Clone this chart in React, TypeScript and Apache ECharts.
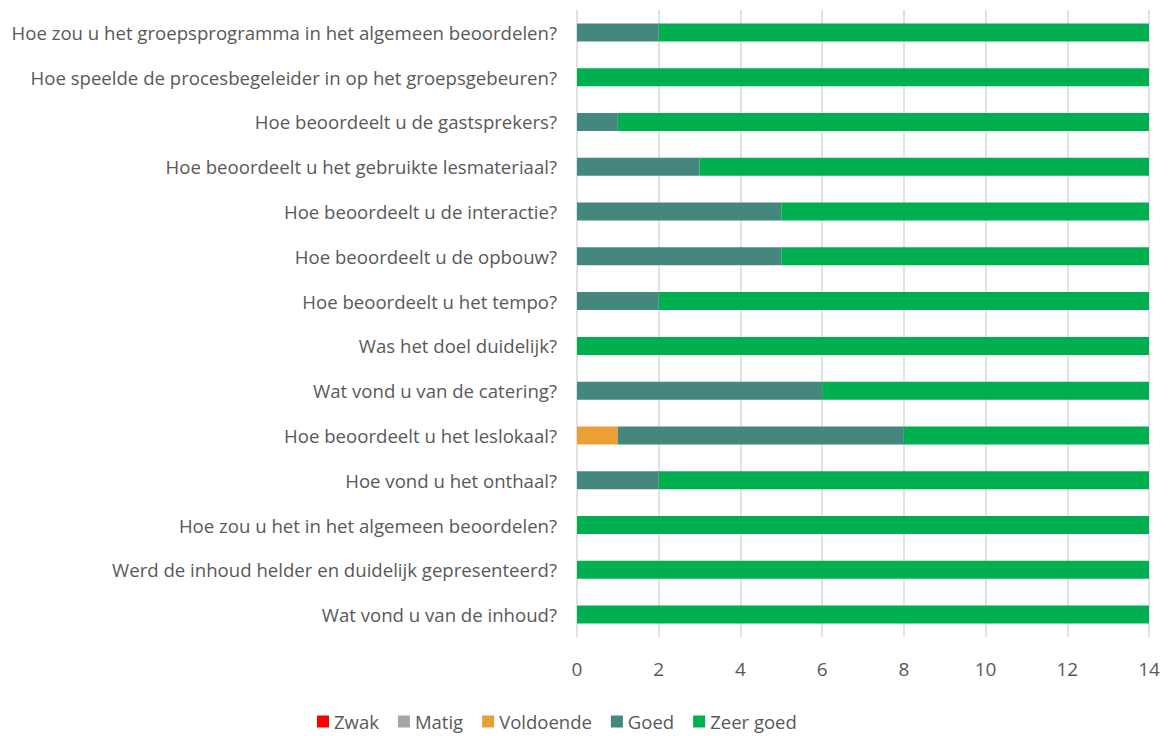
import React, { useEffect, useRef } from "react";
import * as echarts from "echarts";

const categories = [
  "Hoe zou u het groepsprogramma in het algemeen beoordelen?",
  "Hoe speelde de procesbegeleider in op het groepsgebeuren?",
  "Hoe beoordeelt u de gastsprekers?",
  "Hoe beoordeelt u het gebruikte lesmateriaal?",
  "Hoe beoordeelt u de interactie?",
  "Hoe beoordeelt u de opbouw?",
  "Hoe beoordeelt u het tempo?",
  "Was het doel duidelijk?",
  "Wat vond u van de catering?",
  "Hoe beoordeelt u het leslokaal?",
  "Hoe vond u het onthaal?",
  "Hoe zou u het in het algemeen beoordelen?",
  "Werd de inhoud helder en duidelijk gepresenteerd?",
  "Wat vond u van de inhoud?",
];

const zwak = [0, 0, 0, 0, 0, 0, 0, 0, 0, 0, 0, 0, 0, 0];
const matig = [0, 0, 0, 0, 0, 0, 0, 0, 0, 0, 0, 0, 0, 0];
const voldoende = [0, 0, 0, 0, 0, 0, 0, 0, 0, 1, 0, 0, 0, 0];
const goed = [2, 0, 1, 3, 5, 5, 2, 0, 6, 7, 2, 0, 0, 0];
const zeerGoed = [12, 14, 13, 11, 9, 9, 12, 14, 8, 6, 12, 14, 14, 14];

const seriesNames = ["Zwak", "Matig", "Voldoende", "Goed", "Zeer goed"];
const seriesData = [zwak, matig, voldoende, goed, zeerGoed];
const seriesColors = ["#ff0000", "#a5a5a5", "#eba035", "#43877e", "#00b050"];

export default function App() {
  const ref = useRef<HTMLDivElement>(null);
  useEffect(() => {
    if (!ref.current) return;
    const chart = echarts.init(ref.current, null, { renderer: "svg" });
    const font = "'Open Sans', 'Noto Sans', sans-serif";
    chart.setOption({
      animation: false,
      textStyle: { fontFamily: font },
      grid: { left: 577, right: 21, top: 10, bottom: 99, containLabel: false },
      legend: {
        bottom: 0,
        left: 312,
        itemWidth: 12,
        itemHeight: 12,
        itemGap: 19,
        icon: "rect",
        textStyle: { fontSize: 18.5, color: "#595959", fontFamily: font },
        data: seriesNames,
      },
      xAxis: {
        type: "value",
        min: 0,
        max: 14,
        interval: 2,
        axisLine: { show: false },
        axisTick: { show: false },
        axisLabel: { fontSize: 19, color: "#595959", margin: 22, fontFamily: font },
        splitLine: { show: true, lineStyle: { color: "#d9d9d9", width: 1.5 } },
      },
      yAxis: {
        type: "category",
        inverse: true,
        data: categories,
        axisLine: { show: false },
        axisTick: { show: false },
        axisLabel: { fontSize: 18.6, color: "#595959", margin: 20, fontFamily: font },
      },
      series: seriesNames.map((name, i) => ({
        name,
        type: "bar",
        stack: "total",
        barWidth: 18,
        itemStyle: { color: seriesColors[i] },
        data: seriesData[i],
      })),
    });
    return () => chart.dispose();
  }, []);
  return (
    <div
      ref={ref}
      style={{ position: "fixed", left: 0, top: 0, width: 1170, height: 736, background: "#fff" }}
    />
  );
}
